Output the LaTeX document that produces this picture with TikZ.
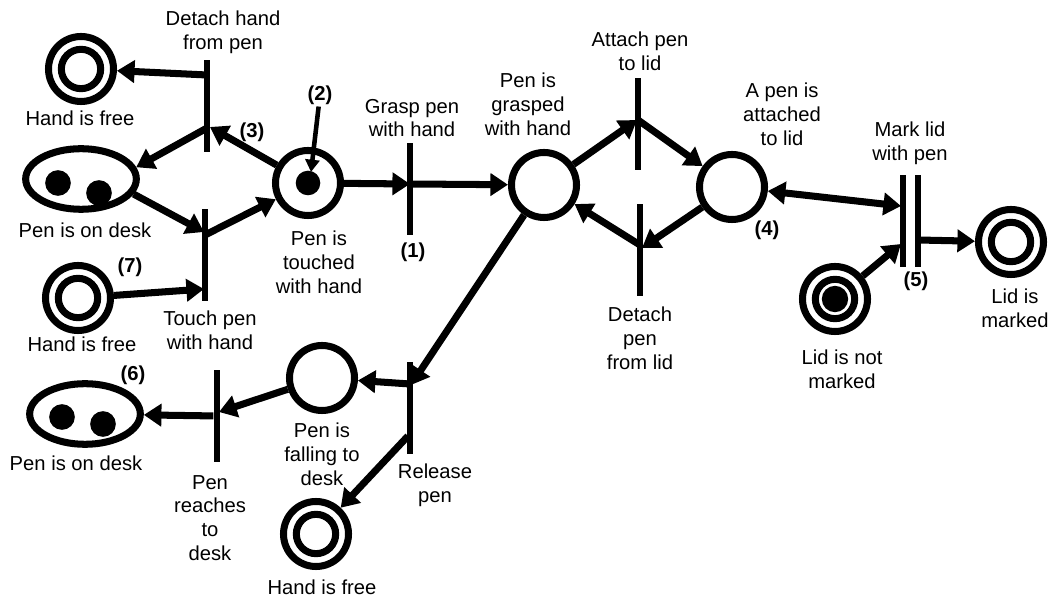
\documentclass[tikz,border=0pt]{standalone}
\usepackage{fontspec}
\setmainfont{Liberation Sans}
\usetikzlibrary{arrows.meta,shapes.geometric}

\tikzset{
  place/.style={circle,draw,line width=4pt,minimum size=37pt,inner sep=0},
  free/.style={place,path picture={\draw[line width=4pt] (path picture bounding box.center) circle[radius=11.2pt];}},
  desk/.style={ellipse,draw,line width=4pt,minimum width=63pt,minimum height=34.5pt,inner sep=0},
  bar/.style={rectangle,fill,inner sep=0,minimum width=3.8pt,minimum height=52pt},
  arc/.style={line width=4pt,-{Triangle[length=10pt,width=12.5pt]}},
  arcboth/.style={line width=4pt,{Triangle[length=10pt,width=12.5pt]}-{Triangle[length=10pt,width=12.5pt]}},
  tokarrow/.style={line width=2.6pt,-{Triangle[length=7pt,width=8pt]}},
  lbl/.style={align=center,inner sep=1pt,font=\fontsize{11.5}{13.6}\selectfont},
  num/.style={inner sep=1pt,font=\fontsize{11.5}{13.6}\selectfont\bfseries}
}

\begin{document}
\begin{tikzpicture}[x=0.02cm,y=-0.02cm]
\useasboundingbox (0,0) rectangle (1052,597);
% places
\node[free] (hf1) at (81,69) {};
\node[desk] (pd1) at (81,179) {};
\node[free] (hf2) at (78,298) {};
\node[place] (pt) at (308,183) {};
\node[place] (pg) at (544,185) {};
\node[place] (pa) at (732,187) {};
\node[free] (lnm) at (835,299) {};
\node[free] (lm) at (1011,242) {};
\node[place] (pf) at (322,378) {};
\node[desk] (pd2) at (85,414) {};
\node[free] (hf3) at (316,534) {};
% tokens
\fill ([shift={(-23,4)}]pd1.center) circle[radius=7.3pt] ([shift={(18,14)}]pd1.center) circle[radius=7.3pt];
\fill ([shift={(-23,3)}]pd2.center) circle[radius=7.3pt] ([shift={(18,10)}]pd2.center) circle[radius=7.3pt];
\fill (pt) circle[radius=7pt] (lnm) circle[radius=7.5pt];
% transitions
\node[bar] (tDH) at (207,106) {};
\node[bar] (tTP) at (205,255) {};
\node[bar] (tGP) at (410,189) {};
\node[bar] (tAP) at (638,124) {};
\node[bar] (tDP) at (640,250) {};
\node[bar] (tMLa) at (903,221) {};
\node[bar] (tMLb) at (918,221) {};
\node[bar] (tRP) at (410,408) {};
\node[bar] (tPR) at (217,416) {};
% labels
\node[lbl] (lDH) at (223,32) {Detach hand\\from pen};
\node[lbl] (lhf1) at (80,118) {Hand is free};
\node[lbl] (lpd1) at (85,230) {Pen is on desk};
\node[lbl] (lhf2) at (82,344) {Hand is free};
\node[lbl] (lTP) at (210,330) {Touch pen\\with hand};
\node[lbl] (lpt) at (319,262) {Pen is\\touched\\with hand};
\node[lbl] (lGP) at (412,118) {Grasp pen\\with hand};
\node[lbl] (lpg) at (528,104) {Pen is\\grasped\\with hand};
\node[lbl] (lAP) at (640,51) {Attach pen\\to lid};
\node[lbl] (lpa) at (782,114) {A pen is\\attached\\to lid};
\node[lbl] (lML) at (910,143) {Mark lid\\with pen};
\node[lbl] (llnm) at (842,369) {Lid is not\\marked};
\node[lbl] (llm) at (1015,308) {Lid is\\marked};
\node[lbl] (lDP) at (640,338) {Detach\\pen\\from lid};
\node[lbl] (lpf) at (322,454) {Pen is\\falling to\\desk};
\node[lbl] (lRP) at (435,485) {Release\\pen};
\node[lbl] (lPR) at (210,518) {Pen\\reaches\\to\\desk};
\node[lbl] (lpd2) at (76,463) {Pen is on desk};
\node[lbl] (lhf3) at (322,587) {Hand is free};
\node[num] (n1) at (413,252) {(1)};
\node[num] (n2) at (320,95) {(2)};
\node[num] (n3) at (252,132) {(3)};
\node[num] (n4) at (767,230) {(4)};
\node[num] (n5) at (916,281) {(5)};
\node[num] (n6) at (133,375) {(6)};
\node[num] (n7) at (130,267) {(7)};
% arcs
\draw[arc] ([shift={(0,-31)}]tDH.center) -- (hf1);
\draw[arc] ([shift={(0,22)}]tDH.center) -- (pd1.12);
\draw[arc] (pt) -- ([shift={(3,21)}]tDH.center);
\draw[arc] (pd1.-16) -- ([shift={(-1,-23)}]tTP.center);
\draw[arc] ([shift={(0,-20)}]tTP.center) -- (pt);
\draw[arc] (hf2) -- ([shift={(-1,34)}]tTP.center);
\draw[tokarrow] (n2) -- ([shift={(3,-11)}]pt.center);
\draw[arc] (pt) -- ([shift={(0,-5)}]tGP.center);
\draw[arc] ([shift={(0,-5)}]tGP.center) -- (pg);
\draw[arc] (pg) -- ([shift={(-1,-4)}]tAP.center);
\draw[arc] ([shift={(0,-4)}]tAP.center) -- (pa);
\draw[arc] (pa) -- ([shift={(2,-2)}]tDP.center);
\draw[arc] ([shift={(0,-5)}]tDP.center) -- (pg);
\draw[arcboth] (pa) -- ([shift={(-2,-15)}]tMLa.center);
\draw[arc] (lnm) -- ([shift={(-2,23)}]tMLa.center);
\draw[arc] ([shift={(0,19)}]tMLb.center) -- (lm);
\draw[arc] (pg) -- ([shift={(1,-23)}]tRP.center);
\draw[arc] ([shift={(0,-24)}]tRP.center) -- (pf);
\draw[arc] (pf) -- ([shift={(2,-4)}]tPR.center);
\draw[arc] (tPR) -- (pd2);
\draw[arc] ([shift={(-2,28)}]tRP.center) -- (hf3);
\end{tikzpicture}
\end{document}
